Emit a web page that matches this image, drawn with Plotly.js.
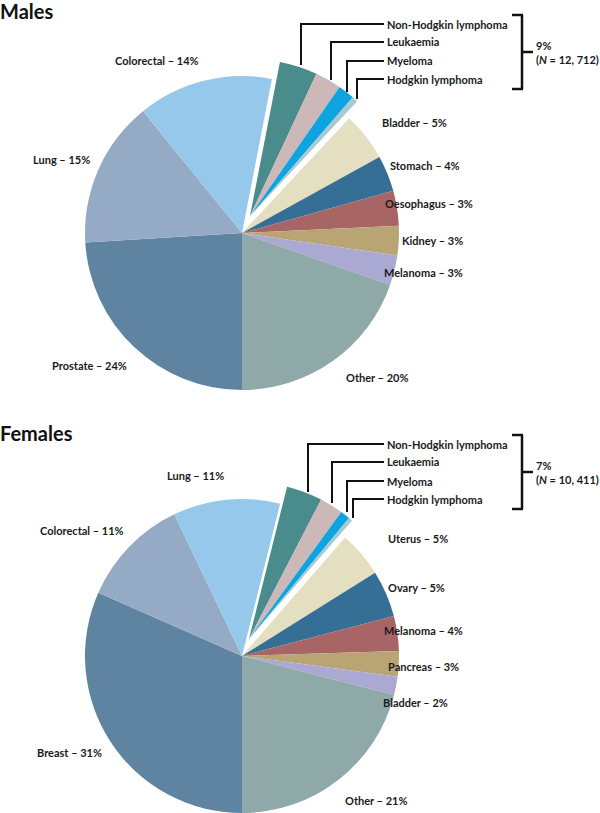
<!DOCTYPE html>
<html><head><meta charset="utf-8">
<script src="https://cdn.plot.ly/plotly-3.0.1.min.js"></script>
<style>html,body{margin:0;padding:0;background:#fff}#chart{width:600px;height:813px}</style>
</head><body><div id="chart"></div>
<script>
// ---------- DATA ----------
const maleCategories = ['Prostate','Lung','Colorectal','Non-Hodgkin lymphoma','Leukaemia','Myeloma','Hodgkin lymphoma','Bladder','Stomach','Oesophagus','Kidney','Melanoma','Other'];
const maleValues = [24.0, 15.1, 13.9, 3.9, 2.7, 1.7, 0.6, 5.0, 3.7, 3.6, 3.0, 3.1, 19.6];
const maleLabelPct = [24, 15, 14, null, null, null, null, 5, 4, 3, 3, 3, 20];
const maleHaemTotal = '9%';
const maleHaemN = '12, 712';

const femaleCategories = ['Breast','Colorectal','Lung','Non-Hodgkin lymphoma','Leukaemia','Myeloma','Hodgkin lymphoma','Uterus','Ovary','Melanoma','Pancreas','Bladder','Other'];
const femaleValues = [31.6, 11.3, 11.0, 3.7, 2.4, 1.0, 0.4, 4.7, 4.8, 3.6, 2.6, 1.9, 21.0];
const femaleLabelPct = [31, 11, 11, null, null, null, null, 5, 5, 4, 3, 2, 21];
const femaleHaemTotal = '7%';
const femaleHaemN = '10, 411';

const haemCategories = ['Non-Hodgkin lymphoma','Leukaemia','Myeloma','Hodgkin lymphoma'];

// ---------- STYLE ----------
const maleColors = ['#5e84a2','#94aac5','#95c8eb','#4a8b8b','#cdb8b9','#0ea4df','#a8c8d2','#e4dfc0','#356f95','#a86565','#b9a573','#a9a9d3','#8ea9a8'];
const femaleColors = ['#5e84a2','#94aac5','#95c8eb','#4a8b8b','#cdb8b9','#0ea4df','#a8c8d2','#e4dfc0','#356f95','#a86565','#b9a573','#a9a9d3','#8ea9a8'];
const CLEAR = 'rgba(0,0,0,0)';

const W = 600, H = 813;
const PX = x => x / W, PY = y => 1 - y / H;
const FONT = 'Lato, Carlito, "Liberation Sans", sans-serif';

function pieTraces(cats, vals, colors, cx, cy, r, dx, dy) {
  const isHaem = c => haemCategories.indexOf(c) >= 0;
  const base = {
    type: 'pie', labels: cats, values: vals, sort: false,
    direction: 'clockwise', rotation: 180, textinfo: 'none',
    showlegend: false, hoverinfo: 'label+value'
  };
  const main = Object.assign({}, base, {
    marker: {colors: cats.map((c, i) => isHaem(c) ? CLEAR : colors[i]), line: {width: 0}},
    domain: {x: [PX(cx - r), PX(cx + r)], y: [PY(cy + r), PY(cy - r)]}
  });
  const haem = Object.assign({}, base, {
    marker: {colors: cats.map((c, i) => isHaem(c) ? colors[i] : CLEAR), line: {width: 0}},
    domain: {x: [PX(cx + dx - r), PX(cx + dx + r)], y: [PY(cy + dy + r), PY(cy + dy - r)]},
    hoverinfo: 'skip'
  });
  return [main, haem];
}

const traces = [
  ...pieTraces(maleCategories, maleValues, maleColors, 242, 233, 157, 8, -17),
  ...pieTraces(femaleCategories, femaleValues, femaleColors, 242, 656, 157, 7, -17)
];

// ---------- LAYOUT (positions in pixels) ----------
const maleLabelPos = {
  'Prostate':[52,365],'Lung':[33,159],'Colorectal':[115,61],
  'Bladder':[382,123],'Stomach':[390,165],'Oesophagus':[385,204],
  'Kidney':[402,240],'Melanoma':[384,272],'Other':[346,378]
};
const femaleLabelPos = {
  'Breast':[37,752],'Colorectal':[40,530],'Lung':[167,476],
  'Uterus':[388,538],'Ovary':[388,587],'Melanoma':[384,630],
  'Pancreas':[388,666],'Bladder':[383,702],'Other':[345,800]
};
const maleHaemY = [24, 42, 61, 79], maleHaemX = [301, 331, 347, 357], maleHaemBottom = [65, 80, 92, 99];
const femaleHaemY = [444, 462, 481, 499], femaleHaemX = [308, 332, 347, 353], femaleHaemBottom = [492, 503, 512, 518];

const annotations = [];
const shapes = [];
const LABEL_FONT = {family: FONT, size: 11, color: '#1a1a1a', weight: 700};
function addText(text, x, y, opts) {
  annotations.push(Object.assign({
    text: text, x: PX(x), y: PY(y), xref: 'paper', yref: 'paper',
    xanchor: 'left', yanchor: 'middle', showarrow: false, borderpad: 0, borderwidth: 0,
    font: LABEL_FONT
  }, opts || {}));
}
function addLine(x0, y0, x1, y1, w) {
  shapes.push({type: 'line', xref: 'paper', yref: 'paper', x0: PX(x0), y0: PY(y0), x1: PX(x1), y1: PY(y1),
    line: {color: '#111', width: w || 2}});
}
function buildLabels(cats, pcts, pos, haemY, haemX, haemB, total, n, bracketTop, bracketBot) {
  cats.forEach((c, i) => {
    if (pcts[i] !== null && pos[c]) addText(c + ' \u2013 ' + pcts[i] + '%', pos[c][0], pos[c][1]);
  });
  haemCategories.forEach((c, i) => {
    addText(c, 387, haemY[i]);
    addLine(haemX[i], haemY[i], 384, haemY[i]);
    addLine(haemX[i], haemY[i] - 1, haemX[i], haemB[i]);
  });
  const mid = (bracketTop + bracketBot) / 2;
  addLine(522, bracketTop, 522, bracketBot, 2.5);
  addLine(512, bracketTop, 523, bracketTop, 2.5);
  addLine(512, bracketBot, 523, bracketBot, 2.5);
  addLine(522, mid, 533, mid, 2.5);
  addText(total + '<br>(<i>N</i> = ' + n + ')', 599, mid, {xanchor: 'right', align: 'left'});
}
buildLabels(maleCategories, maleLabelPct, maleLabelPos, maleHaemY, maleHaemX, maleHaemBottom, maleHaemTotal, maleHaemN, 15, 89);
buildLabels(femaleCategories, femaleLabelPct, femaleLabelPos, femaleHaemY, femaleHaemX, femaleHaemBottom, femaleHaemTotal, femaleHaemN, 435, 509);

addText('Males', 0, 11, {font: {family: FONT, size: 20, color: '#111', weight: 700}});
addText('Females', 0, 433, {font: {family: FONT, size: 20, color: '#111', weight: 700}});

const layout = {
  width: W, height: H, margin: {l: 0, r: 0, t: 0, b: 0},
  paper_bgcolor: '#fff', plot_bgcolor: '#fff',
  showlegend: false, annotations: annotations, shapes: shapes
};
Plotly.newPlot('chart', traces, layout, {displayModeBar: false, staticPlot: true});
</script>
</body></html>
